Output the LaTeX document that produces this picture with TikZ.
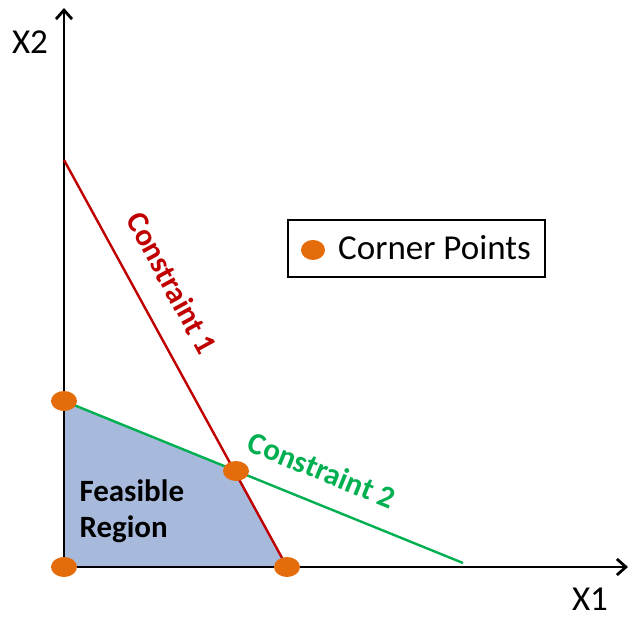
\documentclass[tikz,border=0pt]{standalone}
\usepackage{fontspec}
\setmainfont{Carlito}
\usepackage{tikz}
\usetikzlibrary{arrows.meta, positioning, shapes.geometric}

\definecolor{cornerorange}{RGB}{228,108,10}
\definecolor{cred}{RGB}{192,0,0}
\definecolor{cgreen}{RGB}{0,176,80}
\definecolor{regionblue}{RGB}{168,186,220}

\begin{document}
\begin{tikzpicture}[
    x=1pt, y=1pt,
    axis/.style={-{Straight Barb[length=9pt, width=16pt, line width=2.8pt]}, line width=2.8pt},
    corner/.style={ellipse, fill=cornerorange, minimum width=26pt, minimum height=20pt, inner sep=0pt},
    bigtext/.style={font=\fontsize{35}{40}\selectfont},
    boldtext/.style={font=\fontsize{31}{36}\selectfont\bfseries}
]
\useasboundingbox (0,0) rectangle (632,617);

% axes
\coordinate (O) at (64,50);
\coordinate (ytop) at (64,609);
\coordinate (xend) at (628,50);

% constraint lines
\coordinate (c1top) at (64,457);
\coordinate (c1bot) at (287,50);
\coordinate (c2top) at (64,216);
\coordinate (c2bot) at (463,54);
\coordinate (cross) at (236,146);

% feasible region
\fill[regionblue] (O) -- (c2top) -- (cross) -- (c1bot) -- cycle;

\draw[axis] (O) -- (ytop);
\draw[axis] (O) -- (xend);
\draw[cred, line width=2.4pt] (c1top) -- (c1bot);
\draw[cgreen, line width=2.4pt] (c2top) -- (c2bot);

\node[bigtext] (xtwo) at (30,575) {X2};
\node[bigtext] (xone) at (590,18) {X1};

\node[boldtext, text=cred, rotate=-61.3] (lbla) at (172,334) {Constraint 1};
\node[boldtext, text=cgreen, rotate=-22.2] (lblb) at (322,147) {Constraint 2};
\node[boldtext, anchor=west, align=left] (region) at (76,106) {Feasible\\Region};

% corner points
\node[corner] (p1) at (O) {};
\node[corner] (p2) at (c2top) {};
\node[corner] (p3) at (cross) {};
\node[corner] (p4) at (c1bot) {};

% legend
\node[draw, line width=2pt, minimum width=257pt, minimum height=57pt] (legend) at (416.5,368.5) {};
\node[corner, minimum width=24pt] (legdot) at (313,367) {};
\node[bigtext, anchor=west, inner sep=0pt] (legtext) at (338,369) {Corner Points};
\end{tikzpicture}
\end{document}
